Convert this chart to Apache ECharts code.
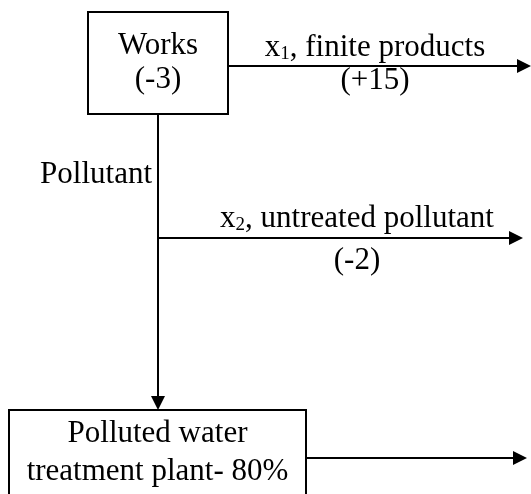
<!DOCTYPE html>
<html><head><meta charset="utf-8">
<script src="https://cdn.jsdelivr.net/npm/echarts@6/dist/echarts.min.js"></script>
<style>html,body{margin:0;padding:0;background:#fff}#c{width:531px;height:494px}</style>
</head><body><div id="c"></div>
<script>
// ---- Data (text content of the diagram) ----
const nodeLabels = [['Works', '(-3)'], ['Polluted water', 'treatment plant- 80%']];
const flowSymbols = ['x', 'x', null];
const flowIndices = ['1', '2', null];
const flowDescriptions = [', finite products', ', untreated pollutant', null];
const flowValues = ['(+15)', '(-2)', null];
const branchLabels = ['Pollutant'];

// ---- Layout (value space of hidden axes) ----
const nodeBoxes = [[88, 12, 228, 114], [9, 410, 306, 530]];
const nodeBaselines = [[53, 87], [441, 479]];
const flowPaths = [[228, 66, 531, 66], [158, 238, 523, 238], [306, 458, 527, 458], [158, 114, 158, 410]];
const flowLabelPos = [[375, 55, 88], [357, 226, 268]];
const branchPos = [[152, 182]];

const FONT = '"Liberation Serif","Times New Roman",serif';
const FS = 31, SUB = 19, K = 0.24;
const LW = 2, HEAD_L = 14, HEAD_W = 7;

function textAt(api, x, yBase, text, align, rich) {
  const p = api.coord([x, yBase]);
  const st = {
    text: text, x: p[0], y: p[1] - K * FS,
    font: FS + 'px ' + FONT, fill: '#000',
    align: align || 'center', verticalAlign: 'middle'
  };
  if (rich) st.rich = rich;
  return { type: 'text', style: st };
}

const chart = echarts.init(document.getElementById('c'), null, { renderer: 'canvas' });
chart.setOption({
  animation: false,
  backgroundColor: '#fff',
  grid: { left: 0, right: 0, top: 0, bottom: 0 },
  xAxis: { type: 'value', min: 0, max: 531, show: false },
  yAxis: { type: 'value', min: 0, max: 494, inverse: true, show: false },
  series: [
    {
      type: 'custom', clip: false, z: 2,
      data: nodeLabels.map((_, i) => [i]),
      renderItem: function (params, api) {
        const i = api.value(0);
        const b = nodeBoxes[i];
        const p0 = api.coord([b[0], b[1]]), p1 = api.coord([b[2], b[3]]);
        const cx = (b[0] + b[2]) / 2;
        const children = [{
          type: 'rect',
          shape: { x: p0[0], y: p0[1], width: p1[0] - p0[0], height: p1[1] - p0[1] },
          style: { fill: '#fff', stroke: '#000', lineWidth: LW }
        }];
        nodeLabels[i].forEach((t, j) => children.push(textAt(api, cx, nodeBaselines[i][j], t)));
        return { type: 'group', children: children };
      }
    },
    {
      type: 'custom', clip: false, z: 1,
      data: flowPaths.map((_, i) => [i]),
      renderItem: function (params, api) {
        const f = flowPaths[api.value(0)];
        const a = api.coord([f[0], f[1]]), b = api.coord([f[2], f[3]]);
        const dx = b[0] - a[0], dy = b[1] - a[1];
        const len = Math.sqrt(dx * dx + dy * dy);
        const ux = dx / len, uy = dy / len;
        const bx = b[0] - ux * HEAD_L, by = b[1] - uy * HEAD_L;
        return {
          type: 'group',
          children: [
            { type: 'line', shape: { x1: a[0], y1: a[1], x2: bx + ux, y2: by + uy },
              style: { stroke: '#000', lineWidth: LW } },
            { type: 'polygon', shape: { points: [[b[0], b[1]], [bx - uy * HEAD_W, by + ux * HEAD_W], [bx + uy * HEAD_W, by - ux * HEAD_W]] },
              style: { fill: '#000' } }
          ]
        };
      }
    },
    {
      type: 'custom', clip: false, z: 3,
      data: flowLabelPos.map((_, i) => [i]),
      renderItem: function (params, api) {
        const i = api.value(0);
        const pos = flowLabelPos[i];
        const rich = {
          m: { fontSize: FS, fontFamily: FONT, lineHeight: FS, fill: '#000' },
          s: { fontSize: SUB, fontFamily: FONT, lineHeight: SUB, verticalAlign: 'bottom', fill: '#000' }
        };
        const label = '{m|' + flowSymbols[i] + '}{s|' + flowIndices[i] + '}{m|' + flowDescriptions[i] + '}';
        return {
          type: 'group',
          children: [
            textAt(api, pos[0], pos[1], label, 'center', rich),
            textAt(api, pos[0], pos[2], flowValues[i])
          ]
        };
      }
    },
    {
      type: 'custom', clip: false, z: 3,
      data: branchLabels.map((_, i) => [i]),
      renderItem: function (params, api) {
        const i = api.value(0);
        return textAt(api, branchPos[i][0], branchPos[i][1], branchLabels[i], 'right');
      }
    }
  ]
});
</script>
</body></html>
